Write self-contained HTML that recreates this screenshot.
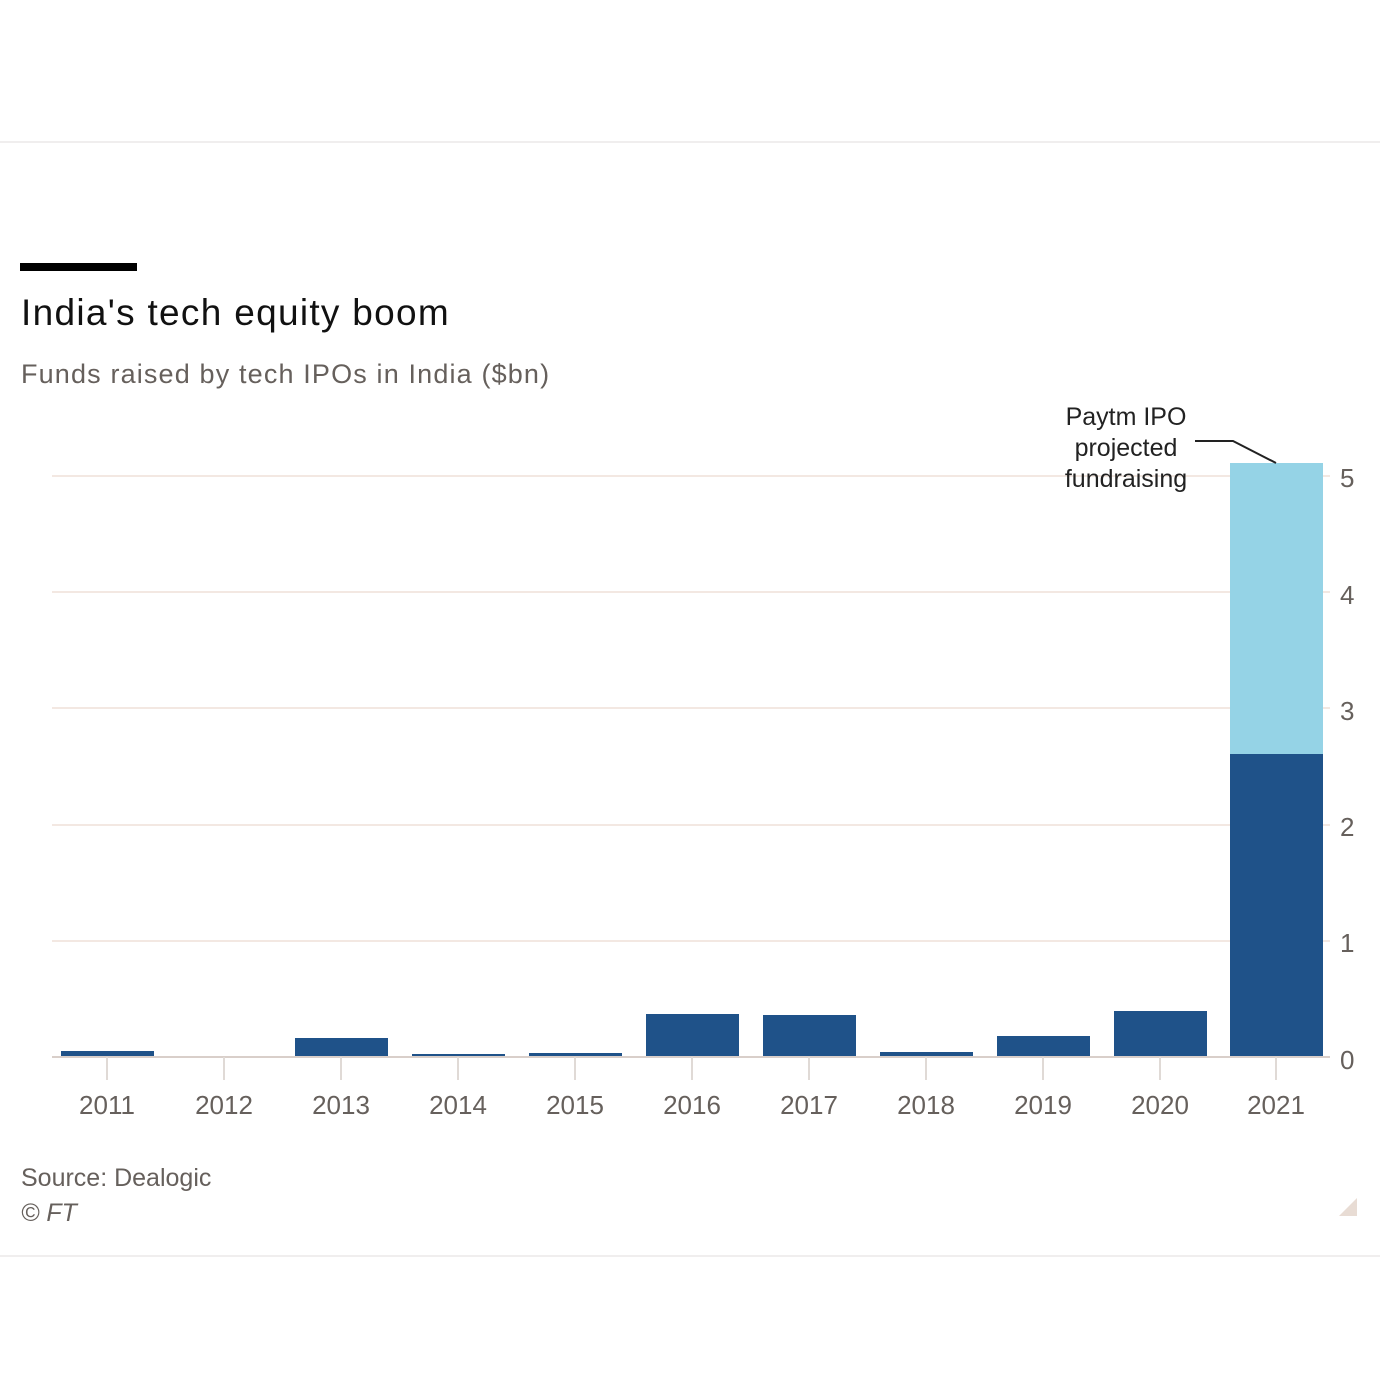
<!DOCTYPE html>
<html><head><style>
body{margin:0;background:#fff;}
svg{display:block;font-family:"Liberation Sans",sans-serif;}
</style></head><body>
<svg width="1380" height="1380" viewBox="0 0 1380 1380">
<line x1="0" y1="142" x2="1380" y2="142" stroke="#f0eeee" stroke-width="2"/>
<line x1="0" y1="1256" x2="1380" y2="1256" stroke="#f0eeee" stroke-width="2"/>
<rect x="20" y="263" width="117" height="8" fill="#000"/>
<text x="21" y="325" font-size="37" fill="#111" letter-spacing="1.3">India's tech equity boom</text>
<text x="21" y="383" font-size="27" fill="#66605c" letter-spacing="1.15">Funds raised by tech IPOs in India ($bn)</text>
<g stroke="#f3e8e2" stroke-width="2">
<line x1="52" y1="476" x2="1330" y2="476"/>
<line x1="52" y1="592" x2="1330" y2="592"/>
<line x1="52" y1="708" x2="1330" y2="708"/>
<line x1="52" y1="825" x2="1330" y2="825"/>
<line x1="52" y1="941" x2="1330" y2="941"/>
</g>
<g fill="#66605c" font-size="26" text-anchor="start">
<text x="1340" y="487">5</text><text x="1340" y="604">4</text><text x="1340" y="720">3</text>
<text x="1340" y="836">2</text><text x="1340" y="952">1</text><text x="1340" y="1069">0</text>
</g>
<g fill="#1f5289">
<rect x="61" y="1051" width="93" height="6"/>
<rect x="295" y="1038" width="93" height="19"/>
<rect x="412" y="1054" width="93" height="3"/>
<rect x="529" y="1053" width="93" height="4"/>
<rect x="646" y="1014" width="93" height="43"/>
<rect x="763" y="1015" width="93" height="42"/>
<rect x="880" y="1052" width="93" height="5"/>
<rect x="997" y="1036" width="93" height="21"/>
<rect x="1114" y="1011" width="93" height="46"/>
<rect x="1230" y="754" width="93" height="303"/>
</g>
<rect x="1230" y="463" width="93" height="291" fill="#95d3e6"/>
<line x1="52" y1="1057" x2="1330" y2="1057" stroke="#d9cfca" stroke-width="2"/>
<g stroke="#e0dad6" stroke-width="2">
<line x1="107" y1="1057" x2="107" y2="1080"/><line x1="224" y1="1057" x2="224" y2="1080"/>
<line x1="341" y1="1057" x2="341" y2="1080"/><line x1="458" y1="1057" x2="458" y2="1080"/>
<line x1="575" y1="1057" x2="575" y2="1080"/><line x1="692" y1="1057" x2="692" y2="1080"/>
<line x1="809" y1="1057" x2="809" y2="1080"/><line x1="926" y1="1057" x2="926" y2="1080"/>
<line x1="1043" y1="1057" x2="1043" y2="1080"/><line x1="1160" y1="1057" x2="1160" y2="1080"/>
<line x1="1276" y1="1057" x2="1276" y2="1080"/>
</g>
<g fill="#66605c" font-size="26" text-anchor="middle">
<text x="107" y="1114">2011</text><text x="224" y="1114">2012</text><text x="341" y="1114">2013</text>
<text x="458" y="1114">2014</text><text x="575" y="1114">2015</text><text x="692" y="1114">2016</text>
<text x="809" y="1114">2017</text><text x="926" y="1114">2018</text><text x="1043" y="1114">2019</text>
<text x="1160" y="1114">2020</text><text x="1276" y="1114">2021</text>
</g>
<g fill="#222" font-size="25" text-anchor="middle">
<text x="1126" y="425">Paytm IPO</text><text x="1126" y="456">projected</text><text x="1126" y="487">fundraising</text>
</g>
<polyline points="1195,441 1233,441 1276,463" fill="none" stroke="#222" stroke-width="2"/>
<text x="21" y="1186" font-size="25" fill="#66605c">Source: Dealogic</text>
<text x="21" y="1221" font-size="25" fill="#66605c" font-style="italic">© FT</text>
<polygon points="1357,1198 1357,1216 1339,1216" fill="#e8dcd4"/>
</svg>
</body></html>
